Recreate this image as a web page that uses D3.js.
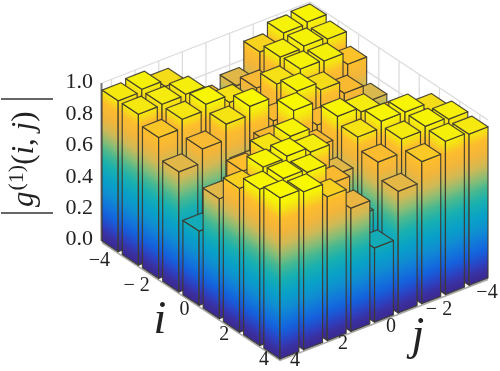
<!DOCTYPE html>
<html>
<head>
<meta charset="utf-8">
<script src="https://cdn.jsdelivr.net/npm/d3@7"></script>
<style>
    html, body { margin: 0; padding: 0; background: #fff; }
    svg { display: block; filter: blur(0.4px); }
    text { font-family: "Liberation Serif", serif; fill: #222; }
</style>
</head>
<body>
<svg id="chart" width="500" height="371"></svg>
<script>
// the two horizontal axes
const iValues = [-4, -3, -2, -1, 0, 1, 2, 3, 4];
const jValues = [4, 3, 2, 1, 0, -1, -2, -3, -4];

// bar heights, one row per i, columns in jValues order
const rowIm4 = [0.955, 0.97, 0.93, 0.76, 0.47, 0.76, 0.915, 0.977, 0.988];
const rowIm3 = [0.955, 0.96, 0.965, 0.85, 0.60, 0.83, 0.968, 0.979, 0.965];
const rowIm2 = [0.893, 0.95, 0.987, 0.94, 0.75, 0.94, 0.977, 0.969, 0.89];
const rowIm1 = [0.76, 0.847, 0.946, 1.0, 0.85, 0.98, 0.93, 0.85, 0.74];
const rowI0 = [0.47, 0.60, 0.75, 0.85, 1.0, 0.85, 0.75, 0.60, 0.47];
const rowI1 = [0.76, 0.877, 0.945, 0.98, 0.85, 0.99, 0.96, 0.85, 0.76];
const rowI2 = [0.91, 0.987, 0.998, 0.965, 0.76, 0.944, 0.986, 0.985, 0.93];
const rowI3 = [0.99, 1.0, 0.98, 0.85, 0.58, 0.87, 0.958, 0.98, 0.967];
const rowI4 = [1.02, 1.0, 0.91, 0.78, 0.47, 0.77, 0.90, 0.97, 0.957];
const heights = [rowIm4, rowIm3, rowIm2, rowIm1, rowI0, rowI1, rowI2, rowI3, rowI4];

// tick labels
const zTicks = [0, 0.2, 0.4, 0.6, 0.8, 1];
const iTicks = [-4, -2, 0, 2, 4];
const iTickLabels = ["\u22124", "\u2212 2", "0", "2", "4"];
const jTicks = [4, 2, 0, -2, -4];
const jTickLabels = ["4", "2", "0", "\u2212 2", "\u22124"];

// colormap stops, parula squeezed to what the picture shows
const colorStops = [0, 0.05, 0.1, 0.18, 0.25, 0.32, 0.4, 0.5, 0.58, 0.645, 0.72, 0.8, 0.88, 0.93, 0.97, 1];
const colorValues = ["#3a2a8f", "#3b2f9e", "#2e3fbf", "#1560dc", "#1178da", "#0f8fd0", "#08a0c8", "#18b0b0",
    "#48b890", "#8abd75", "#d0b955", "#f2b53a", "#fdbd2d", "#f5dc18", "#f5f00a", "#f8f800"];

const svg = d3.select("#chart");
const defs = svg.append("defs");
const barWidth = 0.8;

const zColor = d3.scaleLinear().domain(colorStops).range(colorValues).clamp(true);

// corners of the floor in pixels
const leftCorner = [102, 241];
const alongI = [178, 118];
const alongJ = [208, -81];
const uScale = d3.scaleLinear().domain([-4.4, 4.4]).range([0, 1]);
const vScale = d3.scaleLinear().domain([4.4, -4.4]).range([0, 1]);
const zScale = d3.scaleLinear().domain([0, 1]).range([0, 158]);

function project(i, j, z) {
    const u = uScale(i), v = vScale(j);
    return [
        leftCorner[0] + alongI[0] * u + alongJ[0] * v,
        leftCorner[1] + alongI[1] * u + alongJ[1] * v - zScale(z)
    ];
}

function pts(list) {
    return list.map(p => p.join(",")).join(" ");
}

// back walls
const walls = svg.append("g").attr("stroke", "#dcdcdc").attr("stroke-width", 1.3).attr("fill", "none");
zTicks.forEach(z => {
    walls.append("polyline").attr("points", pts([project(-4.4, 4.4, z), project(-4.4, -4.4, z), project(4.4, -4.4, z)]));
});
jValues.forEach(j => {
    walls.append("line").datum([project(-4.4, j, 0), project(-4.4, j, 1)])
        .attr("x1", d => d[0][0]).attr("y1", d => d[0][1]).attr("x2", d => d[1][0]).attr("y2", d => d[1][1]);
});
iValues.forEach(i => {
    walls.append("line").datum([project(i, -4.4, 0), project(i, -4.4, 1)])
        .attr("x1", d => d[0][0]).attr("y1", d => d[0][1]).attr("x2", d => d[1][0]).attr("y2", d => d[1][1]);
});

// axis lines
const axisLines = svg.append("g").attr("fill", "none");
axisLines.append("polyline")
    .attr("points", pts([project(-4.4, 4.4, 0), project(4.4, 4.4, 0), project(4.4, -4.4, 0)]))
    .attr("transform", "translate(0,1.5)")
    .attr("stroke", "#aaa").attr("stroke-width", 1.5);
axisLines.append("line")
    .datum([project(-4.4, 4.4, 0), project(-4.4, 4.4, 1)])
    .attr("x1", d => d[0][0] - 0.5).attr("y1", d => d[0][1]).attr("x2", d => d[1][0] - 0.5).attr("y2", d => d[1][1])
    .attr("stroke", "#777").attr("stroke-width", 2);

// gradient template, z runs along it from 0 to 1
const baseGrad = defs.append("linearGradient").attr("id", "zGrad");
d3.range(0, 1.001, 0.02).forEach(t => {
    baseGrad.append("stop").attr("offset", t).attr("stop-color", zColor(t));
});

// one gradient per face: colour bands have to follow the face slope
function faceGradient(id, start, end) {
    const dx = end[0] - start[0], dy = end[1] - start[1];
    const len2 = dx * dx + dy * dy;
    const rise = -zScale(1);
    const k = (rise * dy) / len2;
    const gx = 0 - k * dx, gy = rise - k * dy;
    defs.append("linearGradient")
        .attr("id", id)
        .attr("href", "#zGrad")
        .attr("gradientUnits", "userSpaceOnUse")
        .attr("x1", start[0]).attr("y1", start[1])
        .attr("x2", start[0] + gx).attr("y2", start[1] + gy);
    return `url(#${id})`;
}

const bars = [];
iValues.forEach((i, a) => {
    jValues.forEach((j, b) => {
        bars.push({ i: i, j: j, z: heights[a][b], depth: a - b });
    });
});
// back to front so nearer bars cover the others
bars.sort((p, q) => d3.ascending(p.depth, q.depth));

const half = barWidth / 2;
const barGroups = svg.append("g")
    .selectAll("g")
    .data(bars)
    .join("g")
    .attr("stroke", "#3d3a2c")
    .attr("stroke-width", 1.2)
    .attr("stroke-linejoin", "round")
    .attr("stroke-opacity", 0.9);

barGroups.each(function(d, n) {
    const g = d3.select(this);
    const i0 = d.i - half, i1 = d.i + half;
    const j0 = d.j + half, j1 = d.j - half;  // j0 is the side nearest the left corner

    const leftA = project(i0, j0, 0), leftB = project(i1, j0, 0);
    const rightA = project(i1, j0, 0), rightB = project(i1, j1, 0);

    g.append("polygon")
        .attr("points", pts([project(i0, j0, 0), project(i1, j0, 0), project(i1, j0, d.z), project(i0, j0, d.z)]))
        .attr("fill", faceGradient(`fl${n}`, leftA, leftB));
    g.append("polygon")
        .attr("points", pts([project(i1, j0, 0), project(i1, j1, 0), project(i1, j1, d.z), project(i1, j0, d.z)]))
        .attr("fill", faceGradient(`fr${n}`, rightA, rightB));
    g.append("polygon")
        .attr("points", pts([project(i0, j0, d.z), project(i1, j0, d.z), project(i1, j1, d.z), project(i0, j1, d.z)]))
        .attr("fill", zColor(d.z));
});

// z tick labels
const zLabelY = d3.scaleLinear().domain([0, 1]).range([238, 81]);
svg.append("g").selectAll("text")
    .data(zTicks)
    .join("text")
    .attr("x", 93)
    .attr("y", d => zLabelY(d))
    .attr("dy", "0.34em")
    .attr("text-anchor", "end")
    .attr("font-size", 22)
    .text(d => d.toFixed(1));

// i and j tick labels
const iLabelX = d3.scaleLinear().domain([-4, 4]).range([110, 269]);
const iLabelY = d3.scaleLinear().domain([-4, 4]).range([259, 358]);
svg.append("g").selectAll("text")
    .data(iTicks)
    .join("text")
    .attr("x", d => iLabelX(d))
    .attr("y", d => iLabelY(d))
    .attr("dy", "0.34em")
    .attr("text-anchor", "end")
    .attr("font-size", 20)
    .text((d, n) => iTickLabels[n]);

const jLabelX = d3.scaleLinear().domain([4, -4]).range([295, 487]);
const jLabelY = d3.scaleLinear().domain([4, -4]).range([359, 291]);
svg.append("g").selectAll("text")
    .data(jTicks)
    .join("text")
    .attr("x", d => jLabelX(d))
    .attr("y", d => jLabelY(d))
    .attr("dy", "0.34em")
    .attr("text-anchor", "middle")
    .attr("font-size", 20)
    .text((d, n) => jTickLabels[n]);

// axis names
svg.append("text").attr("x", 160).attr("y", 333).attr("text-anchor", "middle")
    .attr("font-size", 46).attr("font-style", "italic").text("i");
svg.append("text").attr("x", 418).attr("y", 349).attr("text-anchor", "middle")
    .attr("font-size", 46).attr("font-style", "italic").text("j");

// |g(1)(i,j)| label, the bars are drawn as plain lines
const zName = svg.append("g").attr("transform", "translate(33,207) rotate(-90)");
const zText = zName.append("text").attr("font-size", 31);
zText.append("tspan").attr("font-style", "italic").text("g");
zText.append("tspan").attr("font-size", 22).attr("dy", -10).attr("dx", 1).text("(1)");
zText.append("tspan").attr("dy", 10).text("(");
zText.append("tspan").attr("font-style", "italic").text("i");
zText.append("tspan").text(", ");
zText.append("tspan").attr("font-style", "italic").text("j");
zText.append("tspan").text(")");
svg.append("line").attr("x1", 1).attr("x2", 53).attr("y1", 99).attr("y2", 99).attr("stroke", "#333").attr("stroke-width", 1.3);
svg.append("line").attr("x1", 1).attr("x2", 53).attr("y1", 213).attr("y2", 213).attr("stroke", "#333").attr("stroke-width", 1.3);
</script>
</body>
</html>
